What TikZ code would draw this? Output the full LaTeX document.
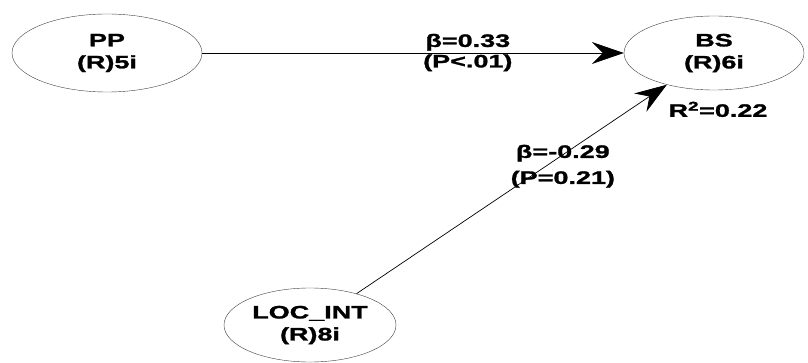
\documentclass[tikz,border=0pt]{standalone}
\usepackage{fontspec}
\setmainfont{Liberation Sans}[FakeStretch=1.5, BoldFeatures={FakeBold=1.5}]
\usetikzlibrary{shapes.geometric, arrows.meta, positioning}

\begin{document}
\begin{tikzpicture}[x=1pt, y=-1pt,
		lv/.style = {ellipse, draw=black!75, thin, inner sep=0pt, align=center},
		t/.style = {font=\fontsize{18}{22}\selectfont\bfseries, text=black},
		r/.style = {-{Stealth[length=32pt, width=22pt, inset=11pt]}, line width=0.7pt},
		]
		\useasboundingbox (0, 0) rectangle (808, 363);

		%Nodes
		\node[lv, t, minimum width=190, minimum height=78]	(pp)	at	(107, 53)	{PP\\(R)5i};
		\node[lv, t, minimum width=180, minimum height=74]	(bs)	at	(714, 53)	{BS\\(R)6i};
		\node[lv, t, minimum width=172, minimum height=74]	(loc)	at	(310, 325)	{LOC\_INT\\(R)8i};
		\node[t, below=8pt of bs, xshift=4pt]	(rsq)	{R\textsuperscript{2}=0.22};

		%Lines
		\draw[r]	(pp)	to	node[t, above, pos=0.63, inner sep=2pt]	{β=0.33}
						node[t, below, pos=0.63, inner sep=1pt]	{(P<.01)}	(bs);
		\draw[r]	(loc)	to	node[t, align=center, pos=0.61, xshift=17pt]	{β=-0.29\\[4pt](P=0.21)}	(bs);

	\end{tikzpicture}
\end{document}
